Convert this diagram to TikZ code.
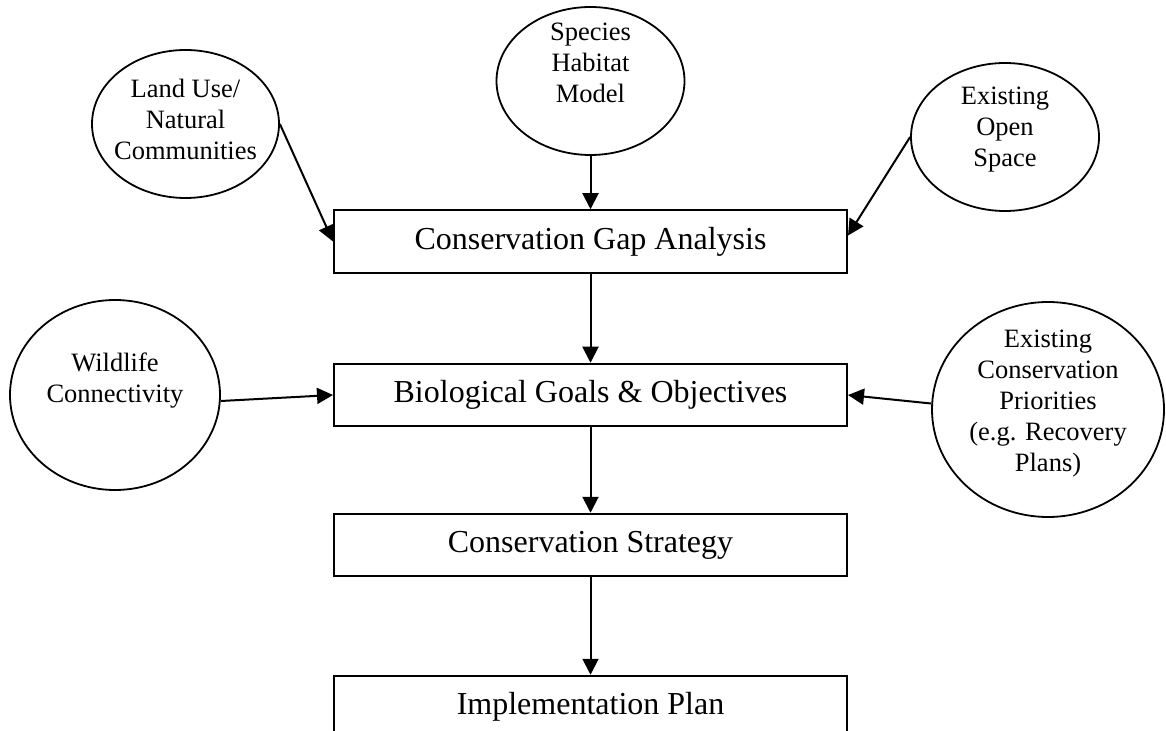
\documentclass[tikz,border=0pt]{standalone}
\usepackage{fontspec}
\setmainfont{Liberation Serif}
\usetikzlibrary{positioning, arrows.meta, shapes.geometric}

\begin{document}
\begin{tikzpicture}[node distance = 75pt, on grid, line width=1pt,
  >={Triangle[length=8pt, width=8pt]},
  stage/.style = {draw, line width=1pt, minimum width=256.5pt, minimum height=31.25pt, inner sep=0pt, font=\fontsize{16}{19}\selectfont},
  blob/.style = {draw, ellipse, line width=0.9pt, inner sep=0pt},
  blobtext/.style = {align=center, inner sep=0pt, font=\fontsize{13.25}{15.5}\selectfont}]
\useasboundingbox (0,0) rectangle (583pt,-365.5pt);

\node[stage] (gap) at (295.25pt,-120.75pt) {Conservation Gap Analysis};
\node[stage, below=76.75pt of gap] (bio) {Biological Goals \& Objectives};
\node[stage, below=75pt of bio] (strat) {Conservation Strategy};
\node[stage, below=81pt of strat] (impl) {Implementation Plan};

\node[blob, minimum width=93.5pt, minimum height=74pt, above left=58.75pt and 202.5pt of gap] (landuse) {};
\node[blob, minimum width=94pt, minimum height=74pt, above=80.25pt of gap] (species) {};
\node[blob, minimum width=94pt, minimum height=74pt, above right=52.25pt and 207.25pt of gap] (openspace) {};
\node[blob, minimum width=105pt, minimum height=95pt, left=237.75pt of bio] (wildlife) {};
\node[blob, minimum width=116pt, minimum height=107.5pt, below right=7.25pt and 228.75pt of bio] (prio) {};

\node[blobtext, yshift=2.5pt] (landusetext) at (landuse) {Land Use/\\Natural\\Communities};
\node[blobtext, yshift=9pt] (speciestext) at (species) {Species\\Habitat\\Model};
\node[blobtext, yshift=3.5pt] (openspacetext) at (openspace) {Existing\\Open\\Space};
\node[blobtext, yshift=7.25pt] (wildlifetext) at (wildlife) {Wildlife\\Connectivity};
\node[blobtext, yshift=2.75pt] (priotext) at (prio) {Existing\\Conservation\\Priorities\\(e.g. Recovery\\Plans)};

\draw[->] (landuse.east) -- (gap.west);
\draw[->] (species) -- (gap);
\draw[->] (openspace.west) -- ([yshift=3pt]gap.east);
\draw[->] (gap) -- (bio);
\draw[->] ([yshift=-3pt]wildlife.east) -- (bio.west);
\draw[->] ([yshift=3pt]prio.west) -- (bio.east);
\draw[->] (bio) -- (strat);
\draw[->] (strat) -- (impl);
\end{tikzpicture}
\end{document}
